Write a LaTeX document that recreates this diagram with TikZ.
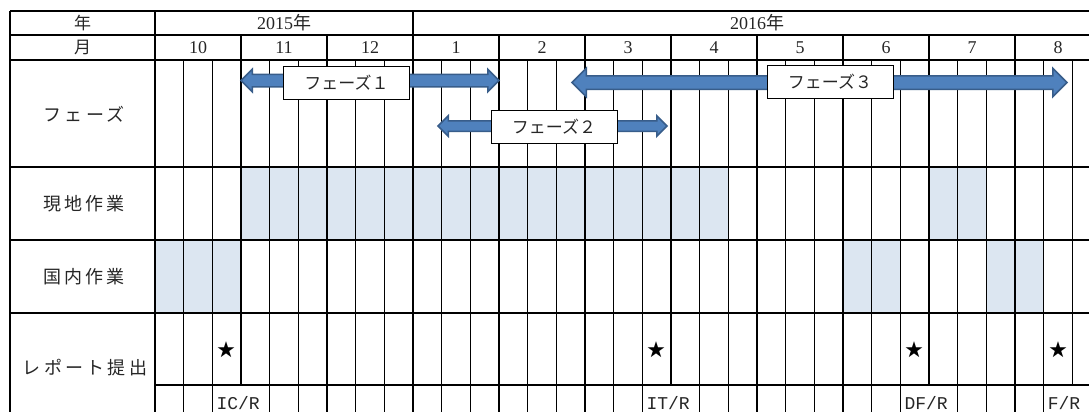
\documentclass[tikz,border=0pt]{standalone}
\usepackage{fontspec}
\setmainfont{Liberation Serif}
\newfontfamily\jp{Noto Sans CJK JP}
\newfontfamily\jpwide[LetterSpace=18]{Noto Sans CJK JP}
\newfontfamily\mono{Liberation Mono}
\usetikzlibrary{shapes.arrows}
\definecolor{weekfill}{RGB}{220,230,241}
\definecolor{phasefill}{RGB}{79,129,189}
\definecolor{phaseline}{RGB}{56,93,138}
\def\wk{28.6667}

\begin{document}
\begin{tikzpicture}[
        x=1pt, y=-1pt,
        grid/.style={line width=1.4pt, black},
        cell/.style={font=\fontsize{18}{20}\selectfont, inner sep=0pt, text=black!85},
        jpcell/.style={font=\jp\fontsize{17}{20}\selectfont, inner sep=0pt, text=black!85},
        rowlabel/.style={font=\jpwide\fontsize{18}{20}\selectfont, inner sep=0pt, text=black!85},
        phasebox/.style={draw=black, line width=0.9pt, fill=white, minimum width=126pt, minimum height=33pt, inner sep=0pt, font=\jp\fontsize{17}{20}\selectfont, text=black!85},
        phasearrow/.style={double arrow, draw=phaseline, fill=phasefill, line width=1.5pt, inner xsep=0pt},
        report/.style={font=\jp\fontsize{18}{20}\selectfont, inner sep=0pt},
        doc/.style={font=\mono\fontsize{18}{20}\selectfont, inner sep=0pt, anchor=base west, text=black!85}
    ]
    \useasboundingbox (0,0) rectangle (1089,412);
    \clip (0,0) rectangle (1089,412);

    % Shaded weeks
    \foreach \a/\b/\ya/\yb in {3/20/167/240, 27/29/167/240, 0/3/240/313, 24/26/240/313, 29/31/240/313}
        \fill[weekfill] ({155+\a*\wk},\ya) rectangle ({155+\b*\wk},\yb);

    % Grid
    \foreach \y in {11,35,60,167,240,313}
        \draw[grid] (10,\y) -- (1101,\y);
    \draw[grid] (155,385) -- (1101,385);
    \draw[grid] (10,11) -- (10,420);
    \draw[grid] (155,11) -- (155,420);
    \draw[grid] (413,11) -- (413,420);
    \foreach \k in {2,4,5,7,8,10}
        \draw[grid] ({155+86*\k},35) -- ({155+86*\k},420);
    \foreach \k in {1,6,9}
        \draw[grid] ({155+86*\k},35) -- ({155+86*\k},385);
    \foreach \i in {1,2,4,5,7,8,10,11,13,14,16,17,19,20,22,23,25,26,28,29,31}
        \draw[grid] ({155+\i*\wk},60) -- ({155+\i*\wk},420);
    \draw[grid] ({155+32*\wk},60) -- ({155+32*\wk},385);

    % Header
    \node[jpcell] (yearhead) at (82.5,23) {年};
    \node[cell] (y2015) at (284,23) {2015{\jp 年}};
    \node[cell] (y2016) at (757,23) {2016{\jp 年}};
    \node[jpcell] (monthhead) at (82.5,47.5) {月};
    \foreach \m [count=\k from 0] in {10,11,12,1,2,3,4,5,6,7,8}
        \node[cell] (month\k) at ({198+86*\k},47.5) {\m};

    % Row labels
    \node[rowlabel] (phaserow) at (84,114) {フェーズ};
    \node[rowlabel] (siterow) at (84,203.5) {現地作業};
    \node[rowlabel] (homerow) at (84,276.5) {国内作業};
    \node[rowlabel] (reportrow) at (85,368) {レポート提出};

    % Phases
    \node[phasearrow, minimum height=258pt, inner ysep=5.5pt, double arrow head extend=5pt] (arrow1) at (370,80.5) {};
    \node[phasearrow, minimum height=229pt, inner ysep=4.5pt, double arrow head extend=5pt] (arrow2) at (552.5,126) {};
    \node[phasearrow, minimum height=495pt, inner ysep=6pt, double arrow head extend=7.5pt] (arrow3) at (819.5,82.5) {};
    \node[phasebox] (phase1) at (346.5,82.5) {フェーズ１};
    \node[phasebox] (phase2) at (554,126.5) {フェーズ２};
    \node[phasebox] (phase3) at (830,81.5) {フェーズ３};

    % Reports
    \node[report] (star1) at ({155+2.5*\wk},350) {★};
    \node[report] (star2) at ({155+17.5*\wk},350) {★};
    \node[report] (star3) at ({155+26.5*\wk},350) {★};
    \node[report] (star4) at ({155+31.5*\wk},350) {★};
    \node[doc] (doc1) at ({159+2*\wk},409) {IC/R};
    \node[doc] (doc2) at ({159+17*\wk},409) {IT/R};
    \node[doc] (doc3) at ({159+26*\wk},409) {DF/R};
    \node[doc] (doc4) at ({159+31*\wk},409) {F/R};
\end{tikzpicture}
\end{document}
